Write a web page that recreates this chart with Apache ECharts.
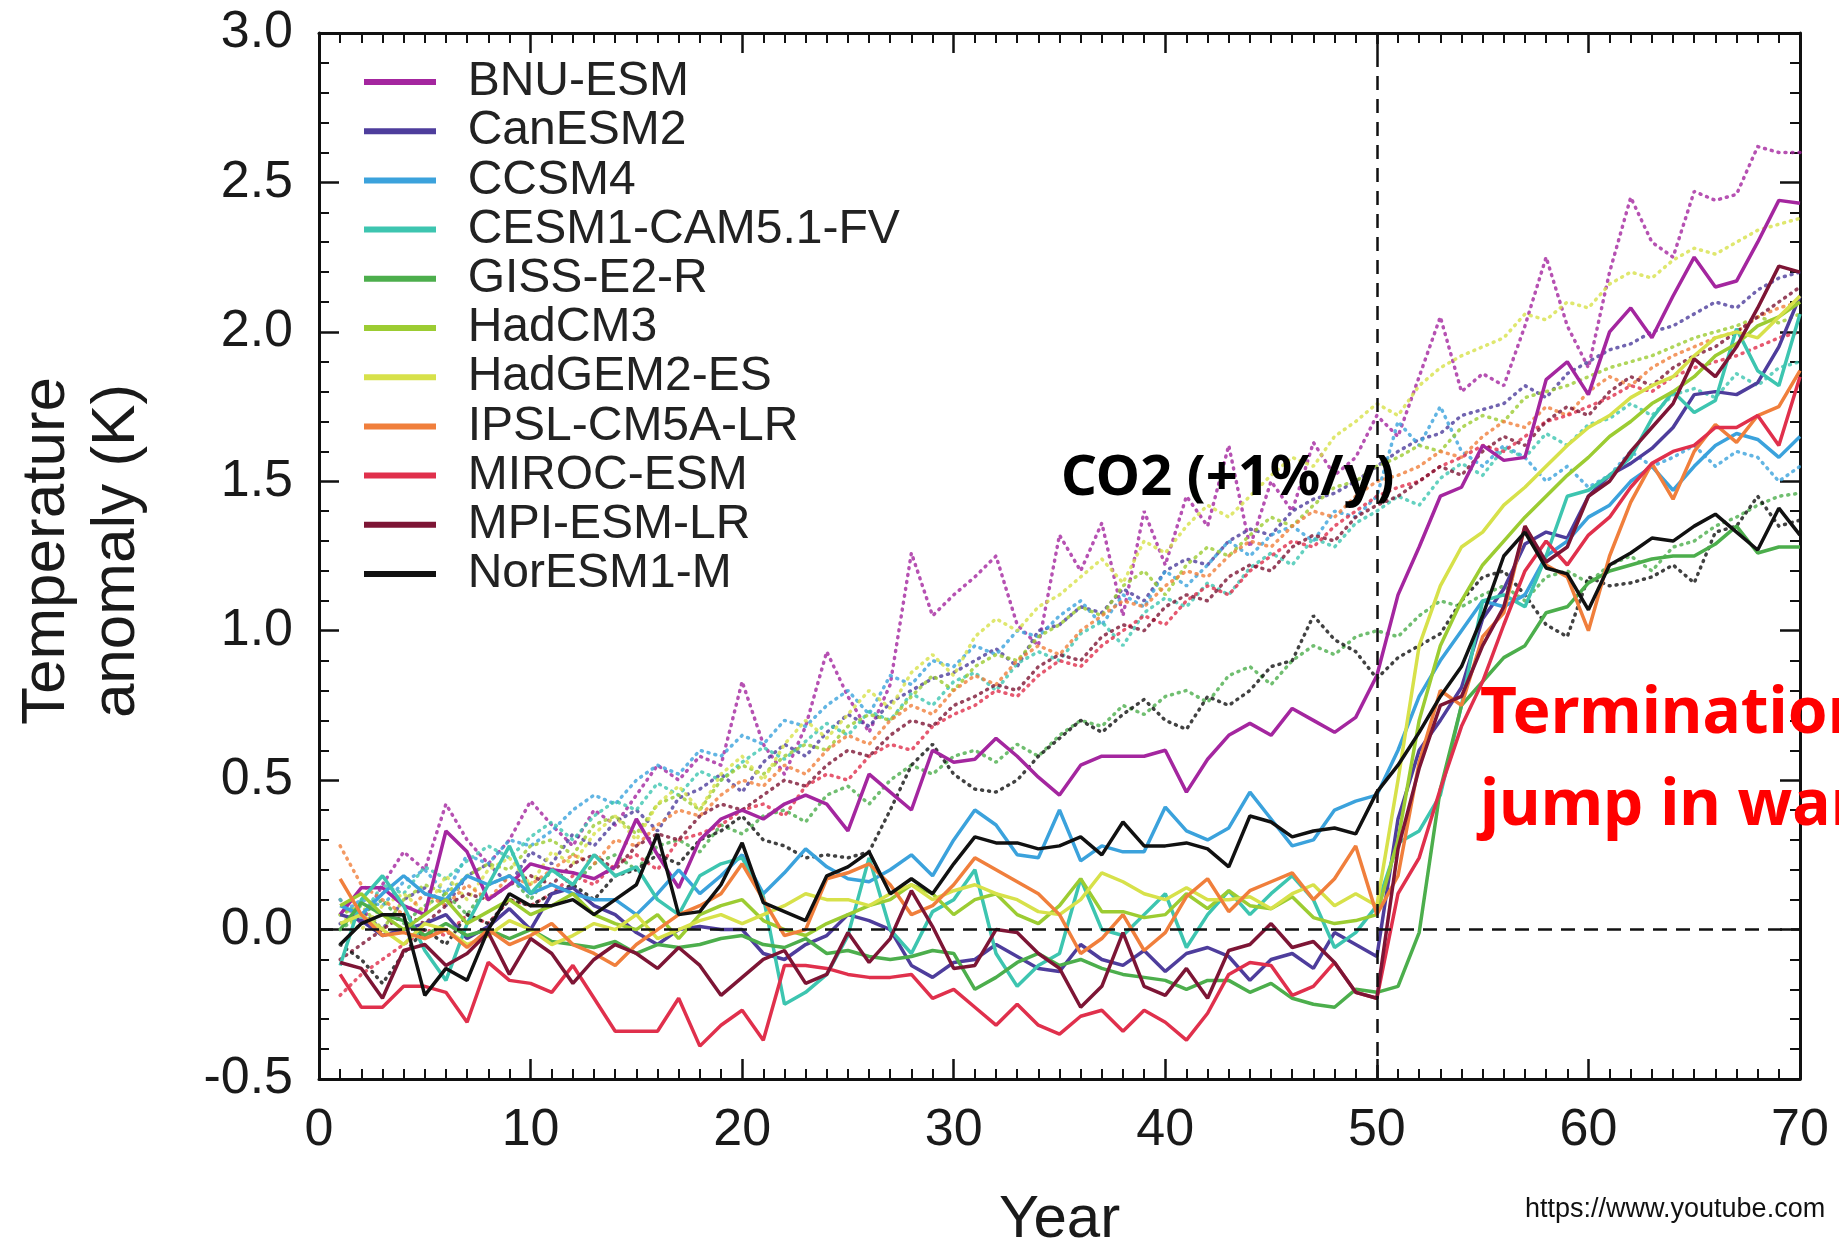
<!DOCTYPE html>
<html>
<head>
<meta charset="utf-8">
<title>Termination effect</title>
<script src="https://cdn.jsdelivr.net/npm/echarts@6/dist/echarts.min.js"></script>
<style>
    html, body { margin: 0; padding: 0; background: #fff; }
    #main { width: 1839px; height: 1247px; }
</style>
</head>
<body>
<div id="main"></div>
<script>
// model names (legend order)
var models = ['BNU-ESM', 'CanESM2', 'CCSM4', 'CESM1-CAM5.1-FV', 'GISS-E2-R', 'HadCM3',
              'HadGEM2-ES', 'IPSL-CM5A-LR', 'MIROC-ESM', 'MPI-ESM-LR', 'NorESM1-M'];

// years 1..70
var years = [];
for (var i = 1; i <= 70; i++) years.push(i);

// solid lines: geoengineering runs, stopped at year 50
var bnuG1 = [0.05,0.14,0.14,0.08,0.05,0.33,0.26,0.10,0.15,0.22,
    0.20,0.19,0.17,0.21,0.37,0.25,0.14,0.30,0.37,0.40,
    0.37,0.42,0.45,0.42,0.33,0.52,0.46,0.40,0.60,0.56,
    0.57,0.64,0.58,0.51,0.45,0.55,0.58,0.58,0.58,0.60,
    0.46,0.57,0.65,0.69,0.65,0.74,0.70,0.66,0.71,0.85,
    1.12,1.28,1.45,1.48,1.62,1.57,1.58,1.84,1.90,1.79,
    2.00,2.08,1.98,2.12,2.25,2.15,2.17,2.30,2.44,2.43];
var canG1 = [0.05,0.03,-0.02,0.00,0.02,0.05,-0.03,0.01,0.07,0.00,
    0.12,0.14,0.08,0.05,-0.01,-0.05,0.00,0.01,0.00,0.00,
    -0.08,-0.10,-0.05,-0.02,0.05,0.03,0.00,-0.12,-0.16,-0.11,
    -0.10,-0.05,-0.09,-0.13,-0.14,-0.05,-0.10,-0.12,-0.07,-0.14,
    -0.08,-0.06,-0.09,-0.17,-0.10,-0.08,-0.13,-0.01,-0.05,-0.09,
    0.37,0.60,0.70,0.81,1.04,1.14,1.29,1.33,1.31,1.45,
    1.52,1.56,1.61,1.68,1.79,1.80,1.79,1.83,1.95,2.12];
var ccsmG1 = [0.08,0.05,0.12,0.18,0.12,0.10,0.18,0.15,0.18,0.12,
    0.15,0.12,0.10,0.10,0.05,0.12,0.20,0.12,0.18,0.25,
    0.12,0.19,0.27,0.21,0.17,0.16,0.20,0.25,0.18,0.30,
    0.40,0.35,0.25,0.24,0.40,0.23,0.28,0.26,0.26,0.41,
    0.33,0.30,0.34,0.46,0.37,0.28,0.30,0.40,0.43,0.45,
    0.60,0.78,0.90,1.00,1.10,1.08,1.12,1.25,1.30,1.38,
    1.42,1.50,1.55,1.47,1.55,1.62,1.66,1.64,1.58,1.65];
var cesmG1 = [-0.12,0.10,0.18,0.08,-0.07,-0.17,0.02,0.15,0.28,0.12,
    0.20,0.15,0.25,0.18,0.21,0.10,0.05,0.18,0.22,0.24,
    0.11,-0.25,-0.21,-0.15,-0.02,0.24,0.00,-0.08,0.06,0.10,
    0.20,-0.08,-0.19,-0.12,-0.08,0.17,0.00,-0.02,0.05,0.12,
    -0.06,0.05,0.13,0.05,0.12,0.18,0.10,-0.06,-0.01,0.08,
    0.29,0.33,0.45,0.75,1.10,1.12,1.08,1.25,1.45,1.47,
    1.52,1.58,1.71,1.80,1.73,1.77,2.01,1.87,1.82,2.06];
var gissG1 = [0.00,0.09,0.05,0.03,-0.02,0.02,-0.02,0.00,-0.03,0.00,
    -0.04,-0.05,-0.06,-0.04,-0.08,-0.05,-0.06,-0.05,-0.03,-0.02,
    -0.05,-0.06,-0.03,-0.08,-0.07,-0.09,-0.10,-0.09,-0.07,-0.08,
    -0.20,-0.16,-0.11,-0.08,-0.12,-0.10,-0.13,-0.15,-0.16,-0.17,
    -0.20,-0.17,-0.17,-0.21,-0.18,-0.23,-0.25,-0.26,-0.20,-0.21,
    -0.19,-0.01,0.47,0.75,0.83,0.91,0.95,1.06,1.08,1.16,
    1.20,1.22,1.24,1.25,1.25,1.29,1.35,1.26,1.28,1.28];
var hadcmG1 = [0.08,0.12,0.05,0.00,0.05,0.10,0.02,0.06,0.10,0.05,
    0.08,0.12,0.05,0.02,0.00,0.05,-0.03,0.05,0.08,0.10,
    0.03,0.00,-0.02,0.02,0.05,0.08,0.10,0.15,0.12,0.05,
    0.10,0.12,0.05,0.02,0.08,0.17,0.06,0.06,0.04,0.05,
    0.12,0.07,0.13,0.08,0.07,0.11,0.04,0.02,0.03,0.05,
    0.30,0.70,0.95,1.10,1.22,1.30,1.38,1.45,1.52,1.58,
    1.65,1.70,1.76,1.80,1.85,1.92,1.96,2.02,2.05,2.10];
var hadgemG1 = [0.02,0.05,0.00,-0.05,0.02,0.00,-0.05,-0.02,0.03,0.00,
    -0.05,-0.02,0.02,0.00,0.05,-0.03,0.00,0.03,0.05,0.02,
    0.05,0.08,0.12,0.10,0.10,0.08,0.12,0.15,0.10,0.13,
    0.15,0.12,0.10,0.06,0.05,0.10,0.19,0.16,0.12,0.10,
    0.14,0.10,0.10,0.11,0.07,0.12,0.15,0.08,0.12,0.08,
    0.50,0.95,1.15,1.28,1.33,1.42,1.48,1.55,1.62,1.68,
    1.72,1.78,1.82,1.85,1.92,1.98,2.00,1.98,2.05,2.12];
var ipslG1 = [0.17,0.05,-0.02,-0.01,-0.03,0.00,-0.06,0.00,-0.05,-0.02,
    0.02,-0.05,-0.08,-0.12,-0.05,0.00,0.05,0.08,0.12,0.22,
    0.10,-0.02,0.00,0.17,0.19,0.22,0.15,0.05,0.08,0.15,
    0.24,0.20,0.16,0.12,0.05,-0.08,-0.03,0.05,-0.07,-0.01,
    0.11,0.17,0.06,0.13,0.16,0.19,0.10,0.17,0.28,0.05,
    0.18,0.56,0.80,0.75,0.98,1.06,1.35,1.22,1.18,1.00,
    1.25,1.43,1.56,1.44,1.60,1.69,1.63,1.72,1.75,1.87];
var mirocG1 = [-0.15,-0.26,-0.26,-0.19,-0.19,-0.21,-0.31,-0.11,-0.17,-0.18,
    -0.21,-0.12,-0.23,-0.34,-0.34,-0.34,-0.23,-0.39,-0.32,-0.27,
    -0.37,-0.12,-0.12,-0.13,-0.15,-0.16,-0.16,-0.15,-0.23,-0.20,
    -0.26,-0.32,-0.25,-0.32,-0.35,-0.29,-0.27,-0.34,-0.27,-0.31,
    -0.37,-0.28,-0.15,-0.11,-0.12,-0.22,-0.19,-0.11,-0.21,-0.23,
    0.12,0.24,0.47,0.68,0.83,1.02,1.20,1.30,1.22,1.32,
    1.38,1.48,1.56,1.60,1.62,1.68,1.68,1.72,1.62,1.85];
var mpiG1 = [-0.11,-0.13,-0.23,-0.07,-0.05,-0.12,-0.08,-0.01,-0.15,-0.03,
    -0.08,-0.18,-0.10,-0.05,-0.08,-0.13,-0.06,-0.12,-0.22,-0.16,
    -0.10,-0.07,-0.18,-0.15,-0.01,-0.11,-0.03,0.13,0.01,-0.13,
    -0.12,0.00,-0.01,-0.08,-0.13,-0.26,-0.19,-0.01,-0.19,-0.22,
    -0.13,-0.23,-0.07,-0.05,0.02,-0.06,-0.04,-0.11,-0.21,-0.23,
    0.27,0.54,0.75,0.78,0.95,1.08,1.35,1.23,1.28,1.45,
    1.50,1.60,1.68,1.76,1.91,1.85,1.95,2.08,2.22,2.20];
var norG1 = [-0.05,0.02,0.05,0.05,-0.22,-0.13,-0.17,0.00,0.12,0.08,
    0.08,0.10,0.05,0.10,0.15,0.32,0.05,0.06,0.15,0.29,
    0.09,0.06,0.03,0.18,0.21,0.26,0.12,0.17,0.12,0.22,
    0.31,0.29,0.29,0.27,0.28,0.31,0.25,0.36,0.28,0.28,
    0.29,0.27,0.21,0.38,0.36,0.31,0.33,0.34,0.32,0.46,
    0.55,0.66,0.78,0.88,1.05,1.25,1.33,1.21,1.19,1.07,
    1.22,1.26,1.31,1.30,1.35,1.39,1.33,1.27,1.41,1.32];

// dotted lines: CO2 +1%/y runs
var bnuCO2 = [0.10,0.02,0.15,0.26,0.20,0.42,0.30,0.22,0.30,0.43,
    0.35,0.28,0.40,0.35,0.45,0.55,0.50,0.58,0.55,0.83,
    0.62,0.52,0.68,0.93,0.78,0.66,0.82,1.26,1.05,1.12,
    1.18,1.25,1.02,0.95,1.32,1.20,1.36,1.05,1.40,1.22,
    1.45,1.35,1.62,1.28,1.50,1.40,1.63,1.52,1.58,1.72,
    1.65,1.85,2.05,1.80,1.86,1.82,2.02,2.25,2.02,1.88,
    2.20,2.45,2.30,2.25,2.47,2.44,2.46,2.62,2.60,2.60];
var canCO2 = [0.02,0.06,0.00,0.10,0.14,0.08,0.18,0.22,0.15,0.26,
    0.22,0.32,0.28,0.36,0.40,0.33,0.44,0.47,0.52,0.46,
    0.56,0.62,0.58,0.66,0.72,0.68,0.76,0.80,0.84,0.86,
    0.90,0.94,0.88,1.00,1.02,1.08,1.06,1.14,1.10,1.20,
    1.24,1.22,1.30,1.34,1.32,1.40,1.44,1.46,1.50,1.55,
    1.60,1.64,1.66,1.72,1.74,1.76,1.82,1.78,1.86,1.90,
    1.94,1.96,2.00,2.02,2.06,2.10,2.08,2.14,2.18,2.20];
var ccsmCO2 = [0.05,0.10,0.08,0.16,0.20,0.12,0.25,0.22,0.30,0.28,
    0.33,0.40,0.45,0.42,0.50,0.55,0.52,0.60,0.58,0.65,
    0.62,0.70,0.68,0.75,0.80,0.72,0.85,0.82,0.90,0.88,
    0.95,0.92,1.00,0.98,1.05,1.10,1.02,1.12,1.08,1.20,
    1.15,1.22,1.30,1.25,1.32,1.35,1.30,1.40,1.38,1.45,
    1.70,1.62,1.75,1.60,1.55,1.62,1.58,1.50,1.55,1.48,
    1.52,1.60,1.55,1.58,1.62,1.55,1.60,1.58,1.50,1.55];
var cesmCO2 = [0.10,0.04,0.15,0.12,0.21,0.17,0.23,0.28,0.24,0.31,
    0.36,0.30,0.38,0.43,0.40,0.49,0.45,0.53,0.50,0.56,
    0.61,0.57,0.63,0.69,0.65,0.73,0.70,0.79,0.75,0.83,
    0.86,0.80,0.89,0.93,0.90,0.99,1.03,0.95,1.06,1.11,
    1.08,1.16,1.12,1.21,1.26,1.22,1.31,1.28,1.36,1.40,
    1.45,1.42,1.51,1.56,1.52,1.61,1.58,1.66,1.62,1.69,
    1.71,1.76,1.72,1.79,1.81,1.78,1.86,1.82,1.88,1.90];
var gissCO2 = [0.00,0.05,0.10,0.02,0.08,0.12,0.05,0.15,0.18,0.10,
    0.20,0.15,0.22,0.25,0.20,0.28,0.30,0.26,0.35,0.32,
    0.38,0.40,0.36,0.45,0.48,0.42,0.50,0.55,0.52,0.58,
    0.60,0.56,0.62,0.58,0.65,0.70,0.68,0.75,0.72,0.78,
    0.80,0.76,0.85,0.88,0.82,0.90,0.95,0.92,0.98,1.00,
    0.98,1.05,1.10,1.08,1.12,1.15,1.10,1.18,1.20,1.16,
    1.22,1.25,1.20,1.28,1.30,1.35,1.38,1.42,1.45,1.46];
var hadcmCO2 = [0.05,0.08,0.00,0.10,0.15,0.12,0.18,0.22,0.20,0.28,
    0.30,0.25,0.35,0.38,0.32,0.42,0.45,0.40,0.50,0.55,
    0.52,0.58,0.62,0.60,0.68,0.72,0.70,0.78,0.85,0.80,
    0.88,0.92,0.90,0.98,1.02,1.08,1.05,1.15,1.20,1.12,
    1.22,1.28,1.25,1.32,1.38,1.35,1.42,1.48,1.50,1.55,
    1.58,1.62,1.60,1.68,1.72,1.70,1.78,1.80,1.82,1.85,
    1.88,1.90,1.92,1.95,1.98,2.00,2.02,2.05,2.03,2.06];
var hadgemCO2 = [0.05,0.00,0.08,0.12,0.06,0.18,0.10,0.20,0.24,0.15,
    0.26,0.22,0.32,0.38,0.30,0.42,0.48,0.40,0.52,0.58,
    0.50,0.62,0.70,0.64,0.72,0.80,0.74,0.86,0.92,0.85,
    0.98,1.04,1.00,1.08,1.12,1.18,1.24,1.16,1.30,1.26,
    1.35,1.42,1.38,1.45,1.52,1.58,1.55,1.65,1.70,1.76,
    1.72,1.82,1.88,1.92,1.95,1.98,2.06,2.04,2.10,2.08,
    2.16,2.20,2.18,2.24,2.28,2.26,2.30,2.34,2.36,2.38];
var ipslCO2 = [0.28,0.15,0.10,0.05,0.12,0.08,0.15,0.10,0.18,0.15,
    0.20,0.25,0.22,0.30,0.28,0.35,0.40,0.38,0.45,0.50,
    0.48,0.55,0.52,0.60,0.65,0.62,0.70,0.75,0.72,0.80,
    0.85,0.82,0.90,0.95,0.92,1.00,1.05,1.10,1.08,1.15,
    1.20,1.18,1.25,1.30,1.28,1.35,1.40,1.38,1.45,1.50,
    1.52,1.55,1.60,1.58,1.65,1.70,1.68,1.75,1.72,1.80,
    1.85,1.82,1.88,1.92,1.95,1.98,2.00,2.05,2.08,2.10];
var mirocCO2 = [-0.22,-0.15,-0.10,-0.05,0.00,-0.02,0.05,0.02,0.10,0.08,
    0.12,0.18,0.15,0.22,0.25,0.20,0.30,0.32,0.35,0.40,
    0.42,0.38,0.48,0.52,0.50,0.58,0.62,0.60,0.68,0.72,
    0.75,0.80,0.78,0.85,0.90,0.88,0.95,1.00,1.05,1.02,
    1.10,1.15,1.12,1.20,1.25,1.30,1.28,1.35,1.40,1.45,
    1.48,1.50,1.55,1.58,1.62,1.60,1.65,1.70,1.72,1.75,
    1.78,1.82,1.80,1.85,1.88,1.90,1.92,1.95,1.98,2.00];
var mpiCO2 = [-0.10,-0.05,0.00,0.05,0.02,0.08,0.12,0.10,0.15,0.18,
    0.15,0.22,0.25,0.20,0.28,0.32,0.30,0.38,0.42,0.40,
    0.45,0.50,0.48,0.55,0.60,0.58,0.65,0.70,0.68,0.75,
    0.78,0.82,0.80,0.88,0.92,0.90,0.98,1.02,1.00,1.08,
    1.12,1.10,1.18,1.22,1.20,1.28,1.32,1.30,1.38,1.42,
    1.45,1.50,1.55,1.52,1.60,1.65,1.62,1.70,1.75,1.72,
    1.80,1.85,1.82,1.88,1.92,1.95,2.00,2.05,2.10,2.15];
var norCO2 = [-0.05,-0.10,-0.18,-0.08,0.00,-0.05,0.05,0.02,0.10,0.08,
    0.12,0.15,0.10,0.18,0.20,0.25,0.22,0.30,0.33,0.38,
    0.30,0.28,0.24,0.25,0.24,0.26,0.40,0.55,0.62,0.52,
    0.47,0.46,0.50,0.58,0.64,0.70,0.66,0.72,0.77,0.70,
    0.67,0.78,0.75,0.80,0.88,0.90,1.05,0.97,0.93,0.84,
    0.91,0.95,0.99,1.10,1.18,1.20,1.12,1.02,0.98,1.18,
    1.15,1.16,1.18,1.22,1.16,1.33,1.35,1.45,1.35,1.37];

var g1Runs = [bnuG1, canG1, ccsmG1, cesmG1, gissG1, hadcmG1, hadgemG1, ipslG1, mirocG1, mpiG1, norG1];
var co2Runs = [bnuCO2, canCO2, ccsmCO2, cesmCO2, gissCO2, hadcmCO2, hadgemCO2, ipslCO2, mirocCO2, mpiCO2, norCO2];

var lineColors = ['#a4269f', '#4e3d9c', '#3ba2dc', '#3dc5b0', '#4cae4c', '#9ccc32',
                  '#d7e14a', '#f07f3c', '#e0304c', '#7d1535', '#111111'];

var FONT = '"Liberation Sans", Arial, sans-serif';

function pairs(vals) {
    return vals.map(function (v, i) { return [years[i], v]; });
}

var series = [];
// dashed guides: zero line and the year-50 line
series.push({
    type: 'line', data: [], silent: true, z: 1,
    markLine: {
        silent: true, symbol: 'none', animation: false,
        label: { show: false },
        lineStyle: { color: '#111', width: 2.5, type: [14, 9] },
        data: [{ yAxis: 0 }, { xAxis: 50 }]
    }
});
models.forEach(function (m, k) {
    series.push({
        name: m + ' (1%/y CO2)', type: 'line', data: pairs(co2Runs[k]),
        symbol: 'none', color: lineColors[k], z: 2,
        lineStyle: { width: 3.5, type: [1, 6], cap: 'round', opacity: 0.8 }
    });
});
models.forEach(function (m, k) {
    series.push({
        name: m, type: 'line', data: pairs(g1Runs[k]),
        symbol: 'none', color: lineColors[k], z: 3,
        lineStyle: { width: 3.5 }
    });
});

function axisBits(minorSplit) {
    return {
        axisLine: { show: true, onZero: false, lineStyle: { color: '#111', width: 3 } },
        axisTick: { show: true, inside: true, length: 20, lineStyle: { color: '#111', width: 2.5 } },
        minorTick: { show: true, splitNumber: minorSplit, length: 10, lineStyle: { color: '#111', width: 2 } },
        splitLine: { show: false },
        minorSplitLine: { show: false }
    };
}

var xMain = Object.assign({
    type: 'value', min: 0, max: 70, interval: 10, position: 'bottom',
    axisLabel: { fontSize: 52, margin: 26, color: '#1a1a1a', fontFamily: FONT },
    name: 'Year', nameLocation: 'middle', nameGap: 111,
    nameTextStyle: { fontSize: 60, color: '#1a1a1a', fontFamily: FONT }
}, axisBits(10));
var xTop = Object.assign({
    type: 'value', min: 0, max: 70, interval: 10, position: 'top',
    axisLabel: { show: false }
}, axisBits(10));
var yMain = Object.assign({
    type: 'value', min: -0.5, max: 3.0, interval: 0.5, position: 'left',
    axisLabel: {
        fontSize: 52, margin: 26, color: '#1a1a1a', fontFamily: FONT,
        formatter: function (v) { return v.toFixed(1); }
    }
}, axisBits(5));
var yRight = Object.assign({
    type: 'value', min: -0.5, max: 3.0, interval: 0.5, position: 'right',
    axisLabel: { show: false }
}, axisBits(5));

var chart = echarts.init(document.getElementById('main'));
chart.setOption({
    animation: false,
    backgroundColor: '#fff',
    grid: { left: 319, top: 33, width: 1481, height: 1046, containLabel: false, outerBoundsMode: 'none' },
    xAxis: [xMain, xTop],
    yAxis: [yMain, yRight],
    legend: {
        data: models,
        orient: 'vertical', left: 364, top: 58, padding: 0,
        icon: 'rect', itemWidth: 72, itemHeight: 6, itemGap: 1.2,
        formatter: '  {name}',
        textStyle: { fontSize: 48, lineHeight: 48, color: '#222', fontFamily: FONT }
    },
    series: series,
    graphic: [
        {
            type: 'text', x: 82, y: 551, rotation: Math.PI / 2,
            style: {
                text: 'Temperature\nanomaly (K)', fontSize: 62, lineHeight: 70,
                fontFamily: FONT, fill: '#1a1a1a', align: 'center', verticalAlign: 'middle'
            }
        },
        {
            type: 'text', x: 1061, y: 479, z: 10,
            style: {
                text: 'CO2 (+1%/y)', fontSize: 56, fontWeight: 'bold',
                fontFamily: '"Noto Sans", sans-serif', fill: '#000', verticalAlign: 'middle'
            }
        },
        {
            type: 'text', x: 1480, y: 715, z: 10,
            style: {
                text: 'Termination', fontSize: 64, fontWeight: 'bold',
                fontFamily: '"Noto Sans", sans-serif', fill: '#ff0000', verticalAlign: 'middle'
            }
        },
        {
            type: 'text', x: 1480, y: 807, z: 10,
            style: {
                text: 'jump in warming', fontSize: 64, fontWeight: 'bold',
                fontFamily: '"Noto Sans", sans-serif', fill: '#ff0000', verticalAlign: 'middle'
            }
        },
        {
            type: 'text', x: 1525, y: 1210, z: 10,
            style: {
                text: 'https://www.youtube.com', fontSize: 27,
                fontFamily: FONT, fill: '#111', verticalAlign: 'middle'
            }
        }
    ]
});
</script>
</body>
</html>
